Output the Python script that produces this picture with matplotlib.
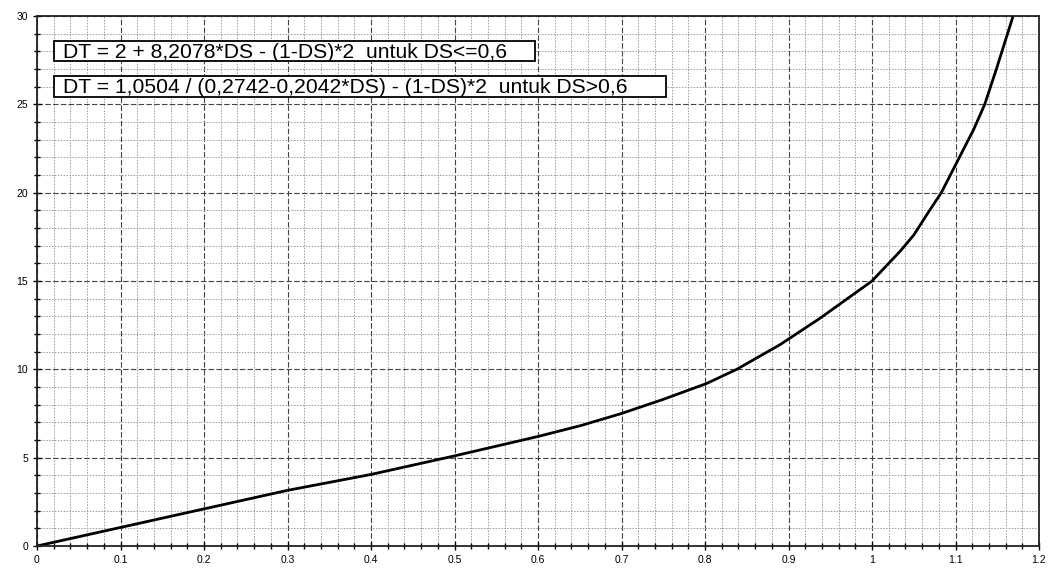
import matplotlib
matplotlib.use("Agg")
import matplotlib.pyplot as plt
from matplotlib.ticker import MultipleLocator
from matplotlib.patches import Rectangle

# Data
ds = [0.0, 0.1, 0.2, 0.3, 0.4, 0.5, 0.6, 0.65, 0.7, 0.75, 0.802, 0.838, 0.89,
      0.938, 1.0, 1.034, 1.05, 1.069, 1.083, 1.109, 1.122, 1.135, 1.149, 1.169]
dt = [0.0, 1.05, 2.1, 3.15, 4.05, 5.1, 6.2, 6.8, 7.5, 8.3, 9.2, 10.0, 11.4,
      12.9, 15.0, 16.7, 17.6, 19.0, 20.0, 22.4, 23.6, 25.0, 27.0, 30.0]

eq1 = "DT = 2 + 8,2078*DS - (1-DS)*2  untuk DS<=0,6"
eq2 = "DT = 1,0504 / (0,2742-0,2042*DS) - (1-DS)*2  untuk DS>0,6"

x_ticks = [0, 0.1, 0.2, 0.3, 0.4, 0.5, 0.6, 0.7, 0.8, 0.9, 1, 1.1, 1.2]
x_labels = ["0", "0.1", "0.2", "0.3", "0.4", "0.5", "0.6", "0.7", "0.8", "0.9", "1", "1.1", "1.2"]
y_ticks = [0, 5, 10, 15, 20, 25, 30]

plt.rcParams['font.family'] = ['Liberation Sans', 'DejaVu Sans']

fig = plt.figure(figsize=(10.52, 5.70), dpi=100)
ax = fig.add_axes([37/1052, 1-546/570, (1039-37)/1052, (546-16)/570])

ax.set_xlim(0, 1.2)
ax.set_ylim(0, 30)
ax.set_xticks(x_ticks)
ax.set_xticklabels(x_labels)
ax.set_yticks(y_ticks)
ax.xaxis.set_minor_locator(MultipleLocator(0.02))
ax.yaxis.set_minor_locator(MultipleLocator(1))

ax.grid(which='major', color='#444444', linestyle=(0, (5, 2)), linewidth=0.8)
ax.grid(which='minor', color='#9a9a9a', linestyle=(0, (1.5, 1.5)), linewidth=0.7)
ax.set_axisbelow(True)

ax.tick_params(which='both', direction='inout', labelsize=7.5, color='black', width=1.0)
ax.tick_params(which='major', length=6)
ax.tick_params(which='minor', length=4)
for s in ax.spines.values():
    s.set_linewidth(1.3)
    s.set_color('#222222')

ax.plot(ds, dt, color='black', linewidth=2.0, solid_joinstyle='round', solid_capstyle='round')

# Equation boxes
ax.add_patch(Rectangle((0.0204, 27.45), 0.5760, 1.13, facecolor='white',
                       edgecolor='black', linewidth=1.3, zorder=3))
ax.add_patch(Rectangle((0.0204, 25.41), 0.7329, 1.19, facecolor='white',
                       edgecolor='black', linewidth=1.3, zorder=3))
ax.text(0.031, 27.93, eq1, fontsize=15.2, va='center', ha='left', zorder=4)
ax.text(0.031, 25.93, eq2, fontsize=15.2, va='center', ha='left', zorder=4)

fig.savefig("out.png", dpi=100)
